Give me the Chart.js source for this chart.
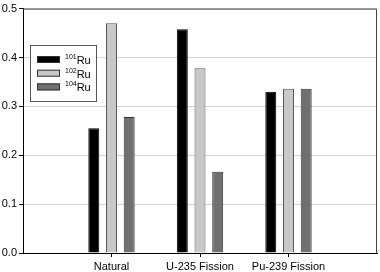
<!DOCTYPE html>
<html>
<head>
<meta charset="utf-8">
<script src="https://cdn.jsdelivr.net/npm/chart.js@4"></script>
<style>
  html, body { margin: 0; padding: 0; background: #fff; overflow: hidden; }
  canvas { display: block; }
</style>
</head>
<body>
<canvas id="ruChart" width="380" height="272"></canvas>
<script>
// categorias e valores
const sources = ['Natural', 'U-235 Fission', 'Pu-239 Fission'];
const ru101 = [0.255, 0.458, 0.330];
const ru102 = [0.470, 0.378, 0.336];
const ru104 = [0.278, 0.166, 0.336];
const isotopes = ['101', '102', '104'];
const yTicks = [0.0, 0.1, 0.2, 0.3, 0.4, 0.5];

// posições vazias nas pontas, como no original
const labels = [''].concat(sources, ['']);
const pad = arr => [null].concat(arr, [null]);

// moldura e legenda dentro do gráfico
const frameLegend = {
    id: 'frameLegend',
    afterDatasetsDraw(chart) {
        const ctx = chart.ctx;
        const a = chart.chartArea;
        ctx.save();
        ctx.strokeStyle = '#444';
        ctx.lineWidth = 1;
        ctx.beginPath();
        ctx.moveTo(a.left, a.top + 0.5);
        ctx.lineTo(a.right - 0.5, a.top + 0.5);
        ctx.lineTo(a.right - 0.5, a.bottom);
        ctx.stroke();

        // caixa da legenda
        ctx.fillStyle = '#fff';
        ctx.fillRect(30, 45, 66, 56);
        ctx.strokeStyle = '#555';
        ctx.strokeRect(30.5, 45.5, 66, 56);
        chart.data.datasets.forEach((ds, i) => {
            const y = 56 + i * 13.7;
            ctx.fillStyle = ds.backgroundColor;
            ctx.fillRect(37, y, 23, 7);
            ctx.strokeStyle = '#333';
            ctx.strokeRect(37.5, y + 0.5, 22, 6);
            ctx.fillStyle = '#000';
            ctx.textBaseline = 'alphabetic';
            ctx.font = '7px "Liberation Sans", Arial, sans-serif';
            ctx.fillText(isotopes[i], 65, y + 3);
            const w = ctx.measureText(isotopes[i]).width;
            ctx.font = '11px "Liberation Sans", Arial, sans-serif';
            ctx.fillText('Ru', 65 + w, y + 8);
        });
        ctx.restore();
    }
};

const ctx = document.getElementById('ruChart').getContext('2d');

const ruChart = new Chart(ctx, {
    type: 'bar',
    data: {
        labels: labels,
        datasets: [
            { label: '¹⁰¹Ru', data: pad(ru101), backgroundColor: '#000000', borderColor: '#000000', borderWidth: 1 },
            { label: '¹⁰²Ru', data: pad(ru102), backgroundColor: '#c8c8c8', borderColor: '#555555', borderWidth: 1 },
            { label: '¹⁰⁴Ru', data: pad(ru104), backgroundColor: '#707070', borderColor: '#333333', borderWidth: 1 }
        ]
    },
    options: {
        responsive: false,
        animation: false,
        devicePixelRatio: 1,
        categoryPercentage: 0.6,
        barPercentage: 0.62,
        layout: { padding: { top: 5, right: 2, left: 0, bottom: 0 } },
        plugins: {
            legend: { display: false },
            tooltip: { enabled: false }
        },
        scales: {
            x: {
                offset: false,
                grid: {
                    offset: false,
                    drawOnChartArea: false,
                    tickLength: 4,
                    tickColor: c => (c.index === 0 || c.index === labels.length - 1) ? 'rgba(0,0,0,0)' : '#000'
                },
                border: { color: '#000', width: 1 },
                ticks: {
                    color: '#000',
                    padding: 3,
                    maxRotation: 0,
                    autoSkip: false,
                    font: { family: '"Liberation Sans", Arial, sans-serif', size: 11 }
                },
                afterFit: s => { s.height = 19; }
            },
            y: {
                min: 0,
                max: 0.5,
                afterBuildTicks: s => { s.ticks = yTicks.map(v => ({ value: v })); },
                grid: {
                    color: '#d4d4d4',
                    tickColor: '#000',
                    tickLength: 4
                },
                border: { color: '#000', width: 1 },
                ticks: {
                    color: '#000',
                    padding: 2,
                    font: { family: '"Liberation Sans", Arial, sans-serif', size: 11 },
                    callback: v => Number(v).toFixed(1)
                },
                afterFit: s => { s.width = 23; }
            }
        }
    },
    plugins: [frameLegend]
});
</script>
</body>
</html>
